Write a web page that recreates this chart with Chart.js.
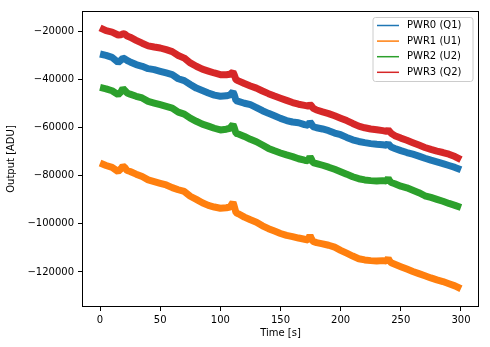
<!DOCTYPE html>
<html>
<head>
<meta charset="utf-8">
<script src="https://cdn.jsdelivr.net/npm/chart.js@4/dist/chart.umd.min.js"></script>
<style>
  html, body { margin: 0; padding: 0; background: #ffffff; }
  canvas { display: block; }
</style>
</head>
<body>
<canvas id="c" width="490" height="347"></canvas>
<script>
// Time axis [s]
const timeS = [0, 5, 10, 15, 17.5, 19, 20.5, 22.5,
  25, 30, 35, 40, 45, 50, 55, 60, 65, 70, 75, 80, 85, 90, 95, 100, 105,
  108, 110.5, 111.5, 113,
  115, 120, 125, 130, 135, 140, 145, 150, 155, 160, 165, 170,
  173, 174.5, 175.5, 177,
  180, 185, 190, 195, 200, 205, 210, 215, 220, 225, 230, 235,
  238, 239.5, 240.5, 242,
  245, 250, 255, 260, 265, 270, 275, 280, 285, 290, 295, 300];

// Series values [ADU]
const pwr0 = [-29300, -29900, -30700, -32800, -31800, -31000, -31300, -32000,
  -32600, -33700, -34400, -35400, -35800, -36500, -37200, -37900, -39600, -40400, -42000, -43500, -44500, -45500, -46400, -46900, -46700,
  -46300, -45000, -46200, -48700,
  -49000, -49800, -50400, -51600, -52900, -54000, -55000, -56100, -57000, -57600, -57900, -58700,
  -59000, -57600, -58200, -59500,
  -60000, -60500, -61200, -62200, -62900, -64000, -65000, -65700, -66200, -66600, -66900, -67100,
  -67300, -66600, -67200, -68000,
  -68600, -69500, -70300, -71000, -71800, -72700, -73500, -74200, -74900, -75700, -76500, -77500];
const pwr1 = [-74700, -75700, -76500, -78200, -77000, -75900, -76500, -77800,
  -78200, -79300, -80300, -81700, -82400, -83100, -83800, -84900, -85800, -86500, -88500, -89800, -91200, -92300, -93000, -93500, -93300,
  -93000, -91000, -92600, -95300,
  -95800, -97200, -98300, -99300, -100800, -102000, -103000, -104000, -104800, -105300, -105900, -106400,
  -106700, -104800, -105900, -107300,
  -107800, -108300, -108900, -109700, -111000, -112200, -113400, -114500, -115000, -115300, -115500, -115300,
  -115500, -114300, -115300, -116200,
  -116800, -117800, -118800, -119800, -120700, -121600, -122500, -123300, -124000, -124900, -125800, -127000];
const pwr2 = [-43200, -43800, -44600, -46200, -45000, -43600, -44400, -45500,
  -46000, -46900, -47600, -49000, -49700, -50400, -51100, -51800, -53500, -54300, -56000, -57300, -58500, -59300, -60200, -60900, -60600,
  -60200, -58600, -59900, -62300,
  -62600, -63600, -64800, -65800, -67200, -68600, -69600, -70500, -71300, -72000, -72900, -73500,
  -73800, -72000, -72900, -74500,
  -74900, -75600, -76400, -77300, -78300, -79300, -80400, -81200, -81700, -82000, -82200, -82000,
  -82200, -81000, -81900, -82800,
  -83300, -84300, -85000, -86000, -87000, -88300, -89000, -89800, -90600, -91500, -92300, -93200];
const pwr3 = [-18400, -19600, -20200, -21400, -21300, -20900, -21000, -21800,
  -22300, -23600, -24800, -25900, -26400, -26800, -27500, -28300, -29900, -31000, -33000, -34400, -35600, -36400, -37200, -37900, -37900,
  -37700, -36800, -37900, -40000,
  -40500, -41600, -42600, -43500, -44700, -45800, -46800, -47700, -48600, -49500, -50200, -50700,
  -51000, -50300, -50700, -51800,
  -52600, -53400, -54100, -55000, -56000, -57000, -58200, -59300, -60000, -60500, -60800, -61200,
  -61500, -60800, -61400, -62300,
  -63300, -64300, -65200, -66200, -67200, -68200, -69000, -69700, -70300, -71000, -72000, -73300];

const seriesLabels = ['PWR0 (Q1)', 'PWR1 (U1)', 'PWR2 (U2)', 'PWR3 (Q2)'];
const seriesValues = [pwr0, pwr1, pwr2, pwr3];
const seriesColors = ['#1f77b4', '#ff7f0e', '#2ca02c', '#d62728'];

const xTicks = [0, 50, 100, 150, 200, 250, 300];
const yTicks = [-120000, -100000, -80000, -60000, -40000, -20000];

const FONT = '"DejaVu Sans", sans-serif';

const datasets = seriesValues.map((vals, i) => ({
  label: seriesLabels[i],
  data: timeS.map((t, k) => ({ x: t, y: vals[k] })),
  borderColor: seriesColors[i],
  backgroundColor: seriesColors[i],
  borderWidth: 7,
  borderJoinStyle: 'bevel',
  pointRadius: 0,
  tension: 0,
  fill: false,
  order: seriesValues.length - 1 - i
}));

const framePlugin = {
  id: 'frameAndLegend',
  afterDraw(chart) {
    const ctx = chart.ctx;
    const a = chart.chartArea;
    ctx.save();
    ctx.strokeStyle = '#000';
    ctx.lineWidth = 1;
    ctx.strokeRect(Math.round(a.left) + 0.5, Math.round(a.top) + 0.5,
                   Math.round(a.right - a.left) - 1, Math.round(a.bottom - a.top) - 1);

    // legend box (upper right)
    const bx = 373, by = 17.5, bw = 100, bh = 64, r = 2.5;
    ctx.beginPath();
    ctx.moveTo(bx + r, by);
    ctx.lineTo(bx + bw - r, by);
    ctx.arcTo(bx + bw, by, bx + bw, by + r, r);
    ctx.lineTo(bx + bw, by + bh - r);
    ctx.arcTo(bx + bw, by + bh, bx + bw - r, by + bh, r);
    ctx.lineTo(bx + r, by + bh);
    ctx.arcTo(bx, by + bh, bx, by + bh - r, r);
    ctx.lineTo(bx, by + r);
    ctx.arcTo(bx, by, bx + r, by, r);
    ctx.closePath();
    ctx.fillStyle = 'rgba(255,255,255,0.8)';
    ctx.fill();
    ctx.strokeStyle = '#cccccc';
    ctx.lineWidth = 1;
    ctx.stroke();

    ctx.font = '10px ' + FONT;
    ctx.textBaseline = 'middle';
    ctx.textAlign = 'left';
    chart.data.datasets.forEach((ds, i) => {
      const yy = 25.5 + i * 15.6;
      ctx.beginPath();
      ctx.moveTo(377, yy);
      ctx.lineTo(399, yy);
      ctx.strokeStyle = ds.borderColor;
      ctx.lineWidth = 1.5;
      ctx.stroke();
      ctx.fillStyle = '#000';
      ctx.fillText(ds.label, 407, yy);
    });
    ctx.restore();
  }
};

const minusFmt = v => (v < 0 ? '\u2212' + String(Math.abs(v)) : String(v));

new Chart(document.getElementById('c'), {
  type: 'line',
  data: { datasets },
  options: {
    responsive: false,
    animation: false,
    devicePixelRatio: 1,
    layout: { padding: { left: 0, right: 11, top: 11, bottom: 0 } },
    plugins: { legend: { display: false }, tooltip: { enabled: false } },
    scales: {
      x: {
        type: 'linear',
        min: -15,
        max: 315,
        afterBuildTicks: s => { s.ticks = xTicks.map(v => ({ value: v })); },
        afterFit: s => { s.height = 40; },
        border: { display: false },
        grid: { display: true, drawOnChartArea: false, drawTicks: true, tickLength: 4, color: '#000', tickWidth: 1 },
        ticks: { color: '#000', padding: 3, font: { family: FONT, size: 10 }, maxRotation: 0, callback: v => minusFmt(v) },
        title: { display: true, text: 'Time [s]', color: '#000', font: { family: FONT, size: 10 }, padding: { top: 0, bottom: 8 } }
      },
      y: {
        type: 'linear',
        min: -134600,
        max: -11400,
        afterBuildTicks: s => { s.ticks = yTicks.map(v => ({ value: v })); },
        afterFit: s => { s.width = 82; },
        border: { display: false },
        grid: { display: true, drawOnChartArea: false, drawTicks: true, tickLength: 4, color: '#000', tickWidth: 1 },
        ticks: { color: '#000', padding: 4, font: { family: FONT, size: 10 }, callback: v => minusFmt(v) },
        title: { display: true, text: 'Output [ADU]', color: '#000', font: { family: FONT, size: 10 }, padding: { top: 5, bottom: 0 } }
      }
    }
  },
  plugins: [framePlugin]
});
</script>
</body>
</html>
